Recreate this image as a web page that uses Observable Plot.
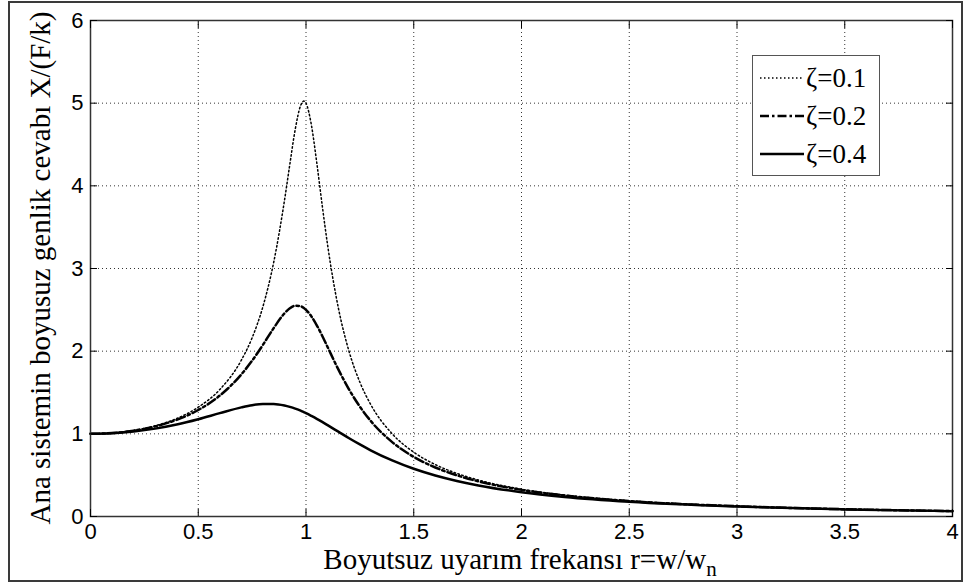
<!DOCTYPE html>
<html><head><meta charset="utf-8">
<script src="https://cdn.jsdelivr.net/npm/d3@7"></script>
<script src="https://cdn.jsdelivr.net/npm/@observablehq/plot@0.6"></script>
<style>
body{margin:0;background:#fff;}
#wrap{position:relative;width:965px;height:584px;overflow:hidden;background:#fff;}
#wrap > svg{position:absolute;left:0;top:0;}
#border{position:absolute;left:8px;top:1px;width:955px;height:581px;border:2px solid #3a3a3a;box-sizing:border-box;}
.lbl{position:absolute;font-family:'Liberation Serif','Times New Roman',serif;font-size:29px;line-height:1;white-space:nowrap;color:#000;}
#xlabel{left:520px;top:545px;transform:translateX(-50%);}
#ylabel{left:40px;top:268px;transform:translate(-50%,-50%) rotate(-90deg);}
#legend{position:absolute;left:752px;top:55px;width:128px;height:121px;background:#fff;border:1px solid #555;box-sizing:border-box;}
.lg{position:absolute;left:806px;font-family:'Liberation Serif','Times New Roman',serif;font-size:27px;line-height:1;white-space:nowrap;}
</style>
</head><body>
<div id="wrap"><div id="border"></div></div>
<script>
// Dimensionless frequency ratio r = w/wn
const r = [0,0.1,0.2,0.3,0.4,0.5,0.6,0.7,0.75,0.8,0.85,0.9,0.925,0.95,0.975,0.99,1.0,1.025,1.05,1.075,1.1,1.15,1.2,1.25,1.3,1.4,1.5,1.6,1.7,1.8,2.0,2.2,2.5,3.0,3.5,4.0];
// Amplitude X/(F/k) for each damping ratio
const amp01 = [1,1.010,1.041,1.097,1.185,1.322,1.536,1.891,2.162,2.538,3.073,3.821,4.261,4.683,4.971,5.025,5.0,4.736,4.279,3.768,3.288,2.525,1.995,1.625,1.356,1.0,0.778,0.628,0.521,0.441,0.330,0.259,0.190,0.125,0.089,0.067];
const amp02 = [1,1.009,1.038,1.090,1.170,1.288,1.463,1.719,1.885,2.076,2.279,2.457,2.518,2.549,2.544,2.522,2.5,2.421,2.313,2.187,2.051,1.780,1.536,1.329,1.157,0.900,0.721,0.593,0.498,0.425,0.322,0.254,0.187,0.124,0.088,0.066];
const amp04 = [1,1.007,1.028,1.063,1.113,1.177,1.25,1.320,1.347,1.362,1.362,1.343,1.326,1.305,1.280,1.262,1.25,1.217,1.182,1.144,1.105,1.026,0.947,0.872,0.801,0.678,0.577,0.496,0.430,0.376,0.294,0.237,0.178,0.120,0.086,0.065];
const seriesNames = ["ζ=0.1","ζ=0.2","ζ=0.4"];
const xTicks = [0,0.5,1,1.5,2,2.5,3,3.5,4];
const xTickLabels = ["0","0.5","1","1.5","2","2.5","3","3.5","4"];
const yTicks = [0,1,2,3,4,5,6];
const yTickLabels = ["0","1","2","3","4","5","6"];
const xTitle = "Boyutsuz uyarım frekansı r=w/w";
const xTitleSub = "n";
const yTitle = "Ana sistemin boyusuz genlik cevabı X/(F/k)";

const styles = [
  {stroke:"#000", strokeWidth:1.5, strokeDasharray:"1.5,2.5"},
  {stroke:"#000", strokeWidth:2.5, strokeDasharray:"9,3,2.5,3"},
  {stroke:"#000", strokeWidth:2.5, strokeDasharray:null}
];
const toRows = a => r.map((x,i)=>({r:x, a:a[i]}));
const rows = [toRows(amp01), toRows(amp02), toRows(amp04)];
const xl = new Map(xTicks.map((t,i)=>[t,xTickLabels[i]]));
const yl = new Map(yTicks.map((t,i)=>[t,yTickLabels[i]]));

const gridStyle = {stroke:"#000", strokeOpacity:0.8, strokeWidth:1, strokeDasharray:"1,3"};
const chart = Plot.plot({
  width:965, height:584,
  marginLeft:90, marginRight:13, marginTop:20, marginBottom:68,
  style:{background:"transparent", fontFamily:"'Liberation Sans', Arial, sans-serif", fontSize:"22px", color:"#000"},
  x:{domain:[0,4]},
  y:{domain:[0,6]},
  marks:[
    Plot.gridX(xTicks, gridStyle),
    Plot.gridY(yTicks, gridStyle),
    ...rows.map((d,i)=>Plot.line(d,{x:"r", y:"a", curve:"monotone-x", ...styles[i]})),
    Plot.frame({stroke:"#333", strokeWidth:1.5}),
    Plot.axisX({ticks:xTicks, anchor:"bottom", tickSize:-7, tickPadding:14, tickFormat:d=>xl.get(d), label:null, fill:"#000"}),
    Plot.axisX({ticks:xTicks, anchor:"top", tickSize:-7, tickFormat:()=>"", label:null}),
    Plot.axisY({ticks:yTicks, anchor:"left", tickSize:-7, tickPadding:14, tickFormat:d=>yl.get(d), label:null, fill:"#000"}),
    Plot.axisY({ticks:yTicks, anchor:"right", tickSize:-7, tickFormat:()=>"", label:null})
  ]
});
const wrap = document.getElementById("wrap");
wrap.appendChild(chart);
d3.select(chart).selectAll("text")
  .attr("font-size", 22)
  .style("font-size", "22px", "important")
  .style("font-family", "'Liberation Sans', Arial, sans-serif", "important");

const xlab = document.createElement("div");
xlab.className = "lbl"; xlab.id = "xlabel";
xlab.innerHTML = xTitle + "<sub style='font-size:21px;vertical-align:-7px'>" + xTitleSub + "</sub>";
wrap.appendChild(xlab);
const ylab = document.createElement("div");
ylab.className = "lbl"; ylab.id = "ylabel"; ylab.textContent = yTitle;
wrap.appendChild(ylab);

const legend = document.createElement("div");
legend.id = "legend"; wrap.appendChild(legend);
const sw = d3.create("svg").attr("width",965).attr("height",584);
const legendY = [78,116,154];
seriesNames.forEach((name,i)=>{
  const s = styles[i];
  sw.append("line").attr("x1",760).attr("x2",804).attr("y1",legendY[i]).attr("y2",legendY[i])
    .attr("stroke",s.stroke).attr("stroke-width",s.strokeWidth).attr("stroke-dasharray",s.strokeDasharray);
  const t = document.createElement("div");
  t.className = "lg"; t.textContent = name; t.style.top = (legendY[i] - 13) + "px";
  wrap.appendChild(t);
});
wrap.appendChild(sw.node());
</script>
</body></html>
